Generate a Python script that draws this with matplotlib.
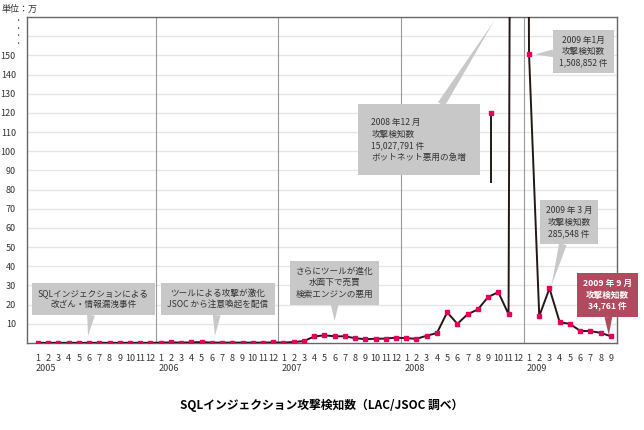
import numpy as np
import matplotlib
matplotlib.use("Agg")
import matplotlib.pyplot as plt

plt.rcParams["font.family"] = "Noto Sans CJK JP"

# monthly detections, unit: 10,000 (万); Dec 2008 is off the chart
years = ["2005", "2006", "2007", "2008", "2009"]
v2005 = [0.1] * 12
v2006 = [0.2, 0.3, 0.2, 0.3, 0.5, 0.2, 0.2, 0.2, 0.2, 0.2, 0.2, 0.3]
v2007 = [0.2, 0.5, 1.0, 3.4, 4.0, 3.5, 3.5, 2.5, 2.0, 2.2, 2.3, 2.8]
v2008 = [2.5, 2.2, 3.8, 5.2, 16.0, 10.0, 15.0, 17.5, 24.0, 26.5, 15.0, 1502.8]
v2009 = [150.9, 14.0, 28.5, 10.8, 10.0, 6.3, 6.2, 5.3, 3.5]
values = v2005 + v2006 + v2007 + v2008 + v2009
ytick_vals = [10, 20, 30, 40, 50, 60, 70, 80, 90, 100, 110, 120, 130, 140, 150]

x = np.arange(len(values))
month_labels = [str(i % 12 + 1) for i in x]

fig = plt.figure(figsize=(6.44, 4.3), dpi=100)
ax = fig.add_axes([27 / 644, 1 - 343 / 430, 590 / 644, 326 / 430])

line_c = "#231815"
mark_c = "#e4005a"
box_c = "#c8c8c8"

ax.plot(x, values, color=line_c, lw=1.4, zorder=3, clip_on=True)
ax.plot(x, values, ls="none", marker="s", ms=3.5, color=mark_c, zorder=4)

ax.set_xlim(-1.07, 56.6)
ax.set_ylim(0, 170)
for v in ytick_vals + [160]:
    ax.axhline(v, color="#e6e6e6", lw=1, zorder=0)
for k in range(1, 5):
    ax.axvline(12 * k - 0.5, color="#999999", lw=0.8, zorder=1)

ax.set_yticks(ytick_vals)
ax.set_yticklabels([str(v) for v in ytick_vals], fontsize=6.5, color="#333333")
ax.set_xticks(x)
ax.set_xticklabels(month_labels, fontsize=6.5, color="#333333")
ax.tick_params(length=0, pad=8)
for s in ax.spines.values():
    s.set_color("#666666")
    s.set_linewidth(1)
for i, yr in enumerate(years):
    ax.text(12 * i - 0.2, -0.085, yr, transform=ax.get_xaxis_transform(),
            fontsize=6.5, color="#333333")
for yy in (156, 160, 164, 168):
    ax.text(-1.9, yy, "·", fontsize=7, ha="center", va="center", color="#333333",
            clip_on=False)
fig.text(2 / 644, 1 - 9 / 430, "単位：万", fontsize=6.5, color="#333333", va="center")
fig.text(0.5, 1 - 405 / 430, "SQLインジェクション攻撃検知数（LAC/JSOC 調べ）",
         fontsize=8.5, fontweight="bold", ha="center", va="center")

# decorative broken segment of the Dec 2008 spike
ax.plot([44.3, 44.3], [84, 120], color=line_c, lw=1.4, zorder=3)
ax.plot([44.3], [120], ls="none", marker="s", ms=3.5, color=mark_c, zorder=4)


def callout(text, xy, xytext, fc=box_c, tc="#333333", bold=False, ha="center",
            pad=0.7):
    ax.annotate(text, xy=xy, xytext=xytext, fontsize=6.2, color=tc, ha=ha,
                va="center", linespacing=1.35, annotation_clip=False,
                fontweight="bold" if bold else "normal", zorder=5,
                bbox=dict(boxstyle="square,pad=%s" % pad, fc=fc, ec="none"),
                arrowprops=dict(arrowstyle="wedge,tail_width=0.9,shrink_factor=0.5",
                                fc=fc, ec="none", shrinkA=0, shrinkB=0))


callout("SQLインジェクションによる\n改ざん・情報漏洩事件", (4.9, 3.7), (5.4, 23.0))
callout("ツールによる攻撃が激化\nJSOC から注意喚起を配信", (17.3, 3.7), (17.6, 23.0))
callout("さらにツールが進化\n水面下で売買\n検索エンジンの悪用", (29.0, 11.5), (29.0, 31.5))
callout("2008 年12 月\n攻撃検知数\n15,027,791 件\nボットネット悪用の急増", (44.6, 168),
        (32.6, 106), ha="left", pad=1.6)
callout("2009 年1月\n攻撃検知数\n1,508,852 件", (48.6, 150.5), (53.3, 152))
callout("2009 年 3 月\n攻撃検知数\n285,548 件", (50.2, 30), (51.9, 63))
callout("2009 年 9 月\n攻撃検知数\n34,761 件", (55.8, 4), (55.7, 25),
        fc="#b04a5e", tc="white", bold=True)

fig.savefig("out.png", dpi=100)
